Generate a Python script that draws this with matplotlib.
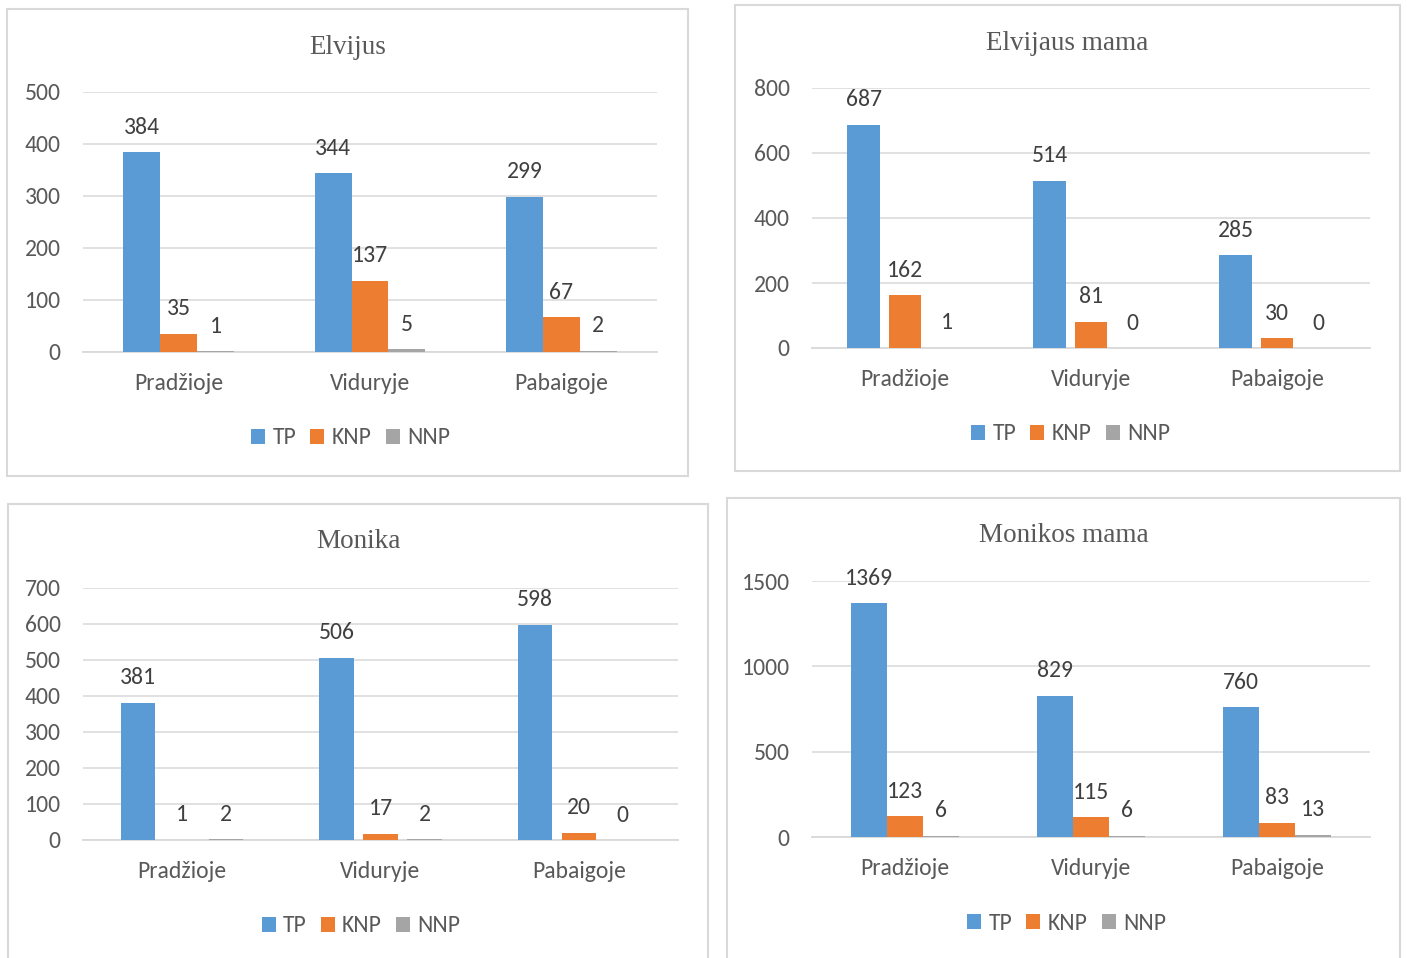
import matplotlib
matplotlib.use('Agg')
import matplotlib.pyplot as plt
import numpy as np
from matplotlib import font_manager
from matplotlib.patches import Rectangle

# 字体：优先用窄体无衬线
names = {f.name for f in font_manager.fontManager.ttflist}
if 'Carlito' in names:
    sans = 'Carlito'
    fs = 17
elif 'Liberation Sans Narrow' in names:
    sans = 'Liberation Sans Narrow'
    fs = 16.5
else:
    sans = 'Liberation Sans'
    fs = 14
plt.rcParams['font.family'] = [sans, 'DejaVu Sans']

# 数据
cats = ['Pradžioje', 'Viduryje', 'Pabaigoje']
series = ['TP', 'KNP', 'NNP']
colors = ['#5B9BD5', '#ED7D31', '#A5A5A5']

elvijus_tp = [384, 344, 299]
elvijus_knp = [35, 137, 67]
elvijus_nnp = [1, 5, 2]

elvijaus_mama_tp = [687, 514, 285]
elvijaus_mama_knp = [162, 81, 30]
elvijaus_mama_nnp = [1, 0, 0]

monika_tp = [381, 506, 598]
monika_knp = [1, 17, 20]
monika_nnp = [2, 2, 0]

monikos_mama_tp = [1369, 829, 760]
monikos_mama_knp = [123, 115, 83]
monikos_mama_nnp = [6, 6, 13]

W, H = 1407, 958
fig = plt.figure(figsize=(W / 100, H / 100), dpi=100)
txt = '#595959'
grid_c = '#D9D9D9'


def box(x0, y0, x1, y1):
    # 像素坐标 -> figure 坐标
    return [x0 / W, 1 - y1 / H, (x1 - x0) / W, (y1 - y0) / H]


def panel(frame, plot, title, title_y, legend_y, data, ymax, ystep, bw, step):
    fx0, fy0, fx1, fy1 = frame
    fig.add_artist(Rectangle((fx0 / W, 1 - fy1 / H), (fx1 - fx0) / W, (fy1 - fy0) / H,
                             transform=fig.transFigure, fill=False,
                             edgecolor=grid_c, linewidth=1.5))
    cx = (fx0 + fx1) / 2
    fig.text(cx / W, 1 - title_y / H, title, ha='center', va='center',
             fontsize=19.5, color=txt, family=['Liberation Serif', 'DejaVu Serif'])

    ax = fig.add_axes(box(*plot))
    x = np.arange(len(cats))
    for i, vals in enumerate(data):
        pos = x + (i - 1) * step
        ax.bar(pos, vals, width=bw, color=colors[i], label=series[i], zorder=3)
        for p, v in zip(pos, vals):
            ax.annotate(str(v), (p, v), xytext=(0, 25), textcoords='offset pixels',
                        ha='center', va='center', fontsize=fs, color='#404040')
    ax.set_xlim(-0.5, 2.5)
    ax.set_ylim(0, ymax)
    ax.set_yticks(np.arange(0, ymax + 1, ystep))
    ax.set_xticks(x)
    ax.set_xticklabels(cats)
    ax.tick_params(axis='both', length=0, labelsize=fs, labelcolor=txt)
    ax.tick_params(axis='y', pad=16)
    ax.tick_params(axis='x', pad=15)
    ax.grid(axis='y', color=grid_c, linewidth=1.1, zorder=0)
    for s in ['top', 'right', 'left']:
        ax.spines[s].set_visible(False)
    ax.spines['bottom'].set_color(grid_c)
    ax.spines['bottom'].set_linewidth(1.3)
    ax.set_facecolor('none')

    fig.legend(*ax.get_legend_handles_labels(), loc='center',
               bbox_to_anchor=((cx + 3) / W, 1 - legend_y / H), ncol=3,
               frameon=False, fontsize=fs, labelcolor=txt,
               handlelength=0.6, handleheight=0.6, handletextpad=0.3,
               columnspacing=0.6)
    return ax


panel((7, 9, 688, 476), (83, 92, 657, 352), 'Elvijus', 47, 438,
      [elvijus_tp, elvijus_knp, elvijus_nnp], 500, 100, 0.193, 0.193)
panel((735, 5, 1400, 471), (812, 88, 1370, 348), 'Elvijaus mama', 43, 434,
      [elvijaus_mama_tp, elvijaus_mama_knp, elvijaus_mama_nnp], 800, 200, 0.175, 0.223)
panel((8, 504, 708, 962), (83, 588, 678, 840), 'Monika', 542, 926,
      [monika_tp, monika_knp, monika_nnp], 700, 100, 0.174, 0.222)
panel((727, 498, 1400, 962), (812, 581, 1370, 837), 'Monikos mama', 536, 923,
      [monikos_mama_tp, monikos_mama_knp, monikos_mama_nnp], 1500, 500, 0.194, 0.194)

plt.savefig('out.png', dpi=100)
